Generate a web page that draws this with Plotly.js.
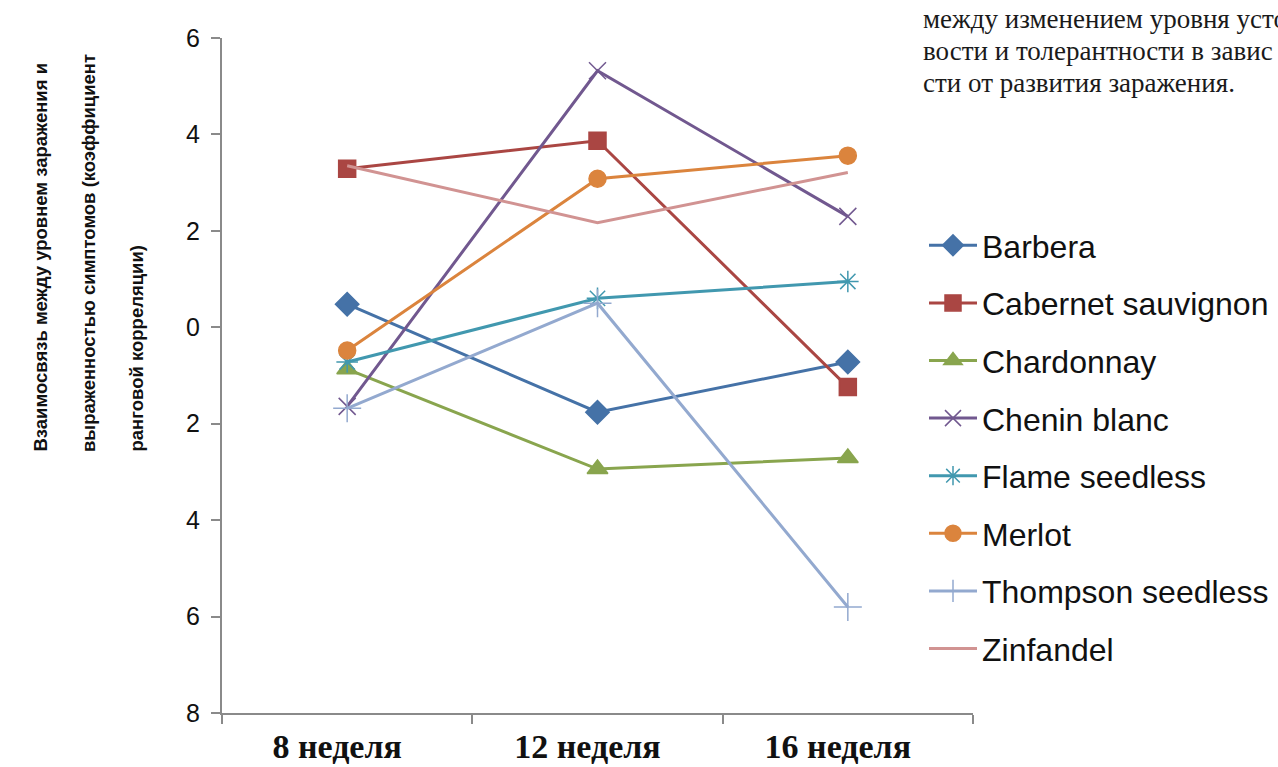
<!DOCTYPE html>
<html>
<head>
<meta charset="utf-8">
<script src="https://cdn.plot.ly/plotly-3.0.1.min.js"></script>
<style>
  html, body { margin: 0; padding: 0; background: #ffffff; }
  #chart { width: 1278px; height: 767px; }
</style>
</head>
<body>
<div id="chart"></div>
<script>
// Weeks after inoculation
const weeks = ["8 неделя", "12 неделя", "16 неделя"];

// Rank correlation values per cultivar
const barbera        = [0.48, -1.76, -0.72];
const cabernet       = [3.29, 3.87, -1.24];
const chardonnay     = [-0.87, -2.94, -2.71];
const cheninBlanc    = [-1.64, 5.32, 2.30];
const flameSeedless  = [-0.72, 0.60, 0.95];
const merlot         = [-0.48, 3.08, 3.56];
const thompson       = [-1.68, 0.50, -5.80];
const zinfandel      = [3.35, 2.17, 3.21];

const seriesNames = ["Barbera", "Cabernet sauvignon", "Chardonnay", "Chenin blanc",
                     "Flame seedless", "Merlot", "Thompson seedless", "Zinfandel"];
const seriesValues = [barbera, cabernet, chardonnay, cheninBlanc,
                      flameSeedless, merlot, thompson, zinfandel];

// Y tick positions and their printed labels
const yTickVals = [6, 4, 2, 0, -2, -4, -6, -8];
const yTickText = ["6", "4", "2", "0", "2", "4", "6", "8"];

const colors  = ["#4572A7", "#AA4643", "#89A54E", "#71588F",
                 "#4198AF", "#DB843D", "#93A9CF", "#D19392"];
const symbols = ["diamond", "square", "triangle-up", "x-thin-open",
                 "asterisk-open", "circle", "cross-thin-open", "circle"];
const sizes   = [18, 17, 18, 17, 18, 17, 20, 0];

const traces = seriesNames.map((name, i) => ({
  type: "scatter",
  mode: i === 7 ? "lines" : "lines+markers",
  name: name,
  legendgroup: "g" + i,
  x: weeks,
  y: seriesValues[i],
  line: { color: colors[i], width: 3 },
  marker: {
    symbol: symbols[i],
    size: sizes[i],
    color: colors[i],
    line: { color: colors[i], width: 1.5 }
  }
}));

const yTitleLines = [
  "Взаимосвязь между уровнем заражения и",
  "выраженностью симптомов (коэффициент",
  "ранговой корреляции)"
];
const yTitleX = [40, 88, 136].map(px => (px - 222) / 751);

const noteLines = [
  "между изменением уровня усто",
  "вости и толерантности в завис",
  "сти от развития заражения."
];
const noteY = [19, 51, 83].map(py => (713 - py) / 675);

const annotations = yTitleLines.map((t, i) => ({
  text: t,
  xref: "paper", yref: "paper",
  x: yTitleX[i], y: (713 - 454) / 675,
  xanchor: "center", yanchor: "bottom",
  textangle: -90,
  showarrow: false,
  font: { family: "Liberation Sans, Arial, sans-serif", size: 18.5, color: "#111111", weight: "bold" }
}));

noteLines.forEach((t, i) => annotations.push({
  text: t,
  xref: "paper", yref: "paper",
  x: (921 - 222) / 751, y: noteY[i],
  xanchor: "left", yanchor: "middle",
  align: "left",
  showarrow: false,
  font: { family: "Liberation Serif, Times New Roman, serif", size: 27, color: "#1a1a1a" }
}));

const layout = {
  width: 1278,
  height: 767,
  paper_bgcolor: "#ffffff",
  plot_bgcolor: "#ffffff",
  margin: { l: 222, r: 305, t: 38, b: 54, autoexpand: false },
  showlegend: true,
  legend: {
    xref: "container", yref: "container",
    x: 924 / 1278, y: 1 - 218 / 767,
    xanchor: "left", yanchor: "top",
    traceorder: "grouped",
    tracegroupgap: 13,
    itemwidth: 48,
    maxheight: 700,
    font: { family: "Liberation Sans, Arial, sans-serif", size: 32, color: "#111111" },
    bgcolor: "rgba(0,0,0,0)"
  },
  xaxis: {
    type: "category",
    range: [-0.5, 2.5],
    showline: true,
    linecolor: "#8a8a8a",
    linewidth: 2,
    ticks: "outside",
    tickson: "boundaries",
    ticklen: 9,
    tickwidth: 2,
    tickcolor: "#8a8a8a",
    showgrid: false,
    zeroline: false,
    ticklabelshift: -10,
    ticklabelstandoff: 2,
    tickfont: { family: "Liberation Serif, Times New Roman, serif", size: 34, color: "#111111", weight: "bold" }
  },
  yaxis: {
    range: [-8, 6],
    tickvals: yTickVals,
    ticktext: yTickText,
    showline: true,
    linecolor: "#8a8a8a",
    linewidth: 2,
    ticks: "outside",
    ticklen: 9,
    tickwidth: 2,
    tickcolor: "#8a8a8a",
    showgrid: false,
    zeroline: false,
    ticklabelstandoff: 6,
    tickfont: { family: "Liberation Sans, Arial, sans-serif", size: 25, color: "#111111" }
  },
  annotations: annotations
};

Plotly.newPlot("chart", traces, layout, { displayModeBar: false, staticPlot: true });
</script>
</body>
</html>
